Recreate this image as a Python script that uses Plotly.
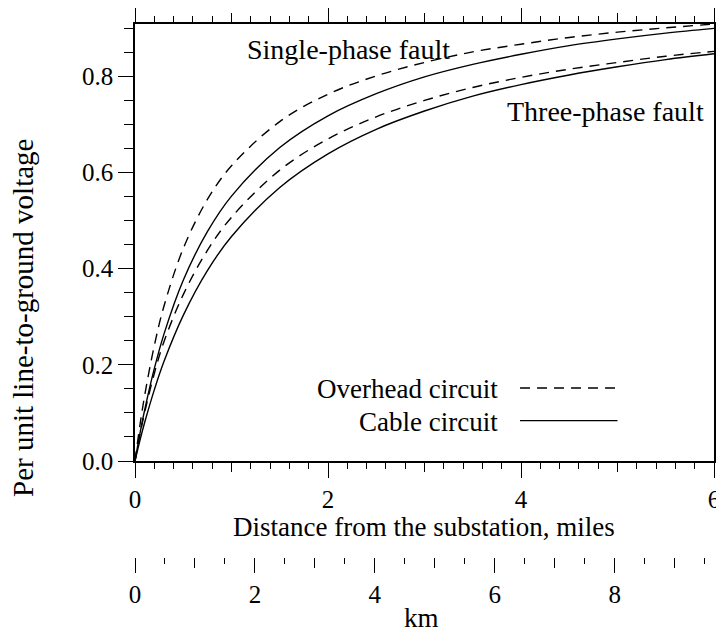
import plotly.graph_objects as go

# ---- data ----
miles = [0, 0.05, 0.1, 0.2, 0.3, 0.5, 0.75, 1, 1.5, 2, 2.5, 3, 3.5, 4, 4.5, 5, 5.5, 6]
overhead_single = [0, 0.073, 0.136, 0.240, 0.322, 0.442, 0.544, 0.614, 0.706, 0.763,
                   0.801, 0.829, 0.851, 0.867, 0.881, 0.892, 0.901, 0.909]
cable_single = [0, 0.056, 0.106, 0.192, 0.264, 0.376, 0.477, 0.551, 0.652, 0.718,
                0.764, 0.799, 0.825, 0.846, 0.864, 0.878, 0.890, 0.900]
overhead_three = [0, 0.054, 0.101, 0.182, 0.248, 0.346, 0.438, 0.507, 0.605, 0.670,
                  0.716, 0.750, 0.777, 0.798, 0.815, 0.829, 0.842, 0.852]
cable_three = [0, 0.042, 0.080, 0.148, 0.207, 0.303, 0.396, 0.467, 0.569, 0.639,
               0.690, 0.728, 0.759, 0.783, 0.803, 0.820, 0.835, 0.847]

MI_TO_KM = 1.609344
miles_major = [0, 2, 4, 6]
miles_mid = [1, 3, 5]
km_major = [0, 2, 4, 6, 8]
km_mid = [1, 3, 5, 7, 9]
y_ticks = [0.0, 0.2, 0.4, 0.6, 0.8]
y_ticktext = ["0.0", "0.2", "0.4", "0.6", "0.8"]

FONT = "Liberation Serif"
FS_TICK = 25
FS_TITLE = 27
FS_NOTE = 28
FS_YTITLE = 29
DASH = "10px,7px"

fig = go.Figure()
for ys, dash in [(overhead_single, DASH), (cable_single, "solid"),
                 (overhead_three, DASH), (cable_three, "solid")]:
    fig.add_trace(go.Scatter(x=miles, y=ys, mode="lines",
                             line=dict(color="black", width=1.4, dash=dash, shape="spline"),
                             showlegend=False, hoverinfo="skip"))

km = [m * MI_TO_KM for m in miles]
# helper (invisible) traces so the extra tick axes are drawn
fig.add_trace(go.Scatter(x=km, y=cable_three, xaxis="x2", mode="none", showlegend=False, hoverinfo="skip"))
fig.add_trace(go.Scatter(x=miles, y=cable_three, xaxis="x3", mode="none", showlegend=False, hoverinfo="skip"))
fig.add_trace(go.Scatter(x=km, y=cable_three, xaxis="x4", mode="none", showlegend=False, hoverinfo="skip"))

xmax = 6
kmmax = 6 * MI_TO_KM
ybot = 0.1801
ymax = 0.909

common = dict(showgrid=False, zeroline=False, tickcolor="black", tickwidth=1,
              automargin=False, ticklabeloverflow="allow",
              tickfont=dict(family=FONT, size=FS_TICK, color="black"))

# the page body adds an 8px offset, so the figure is 8px smaller on each side
fig.update_layout(
    width=716, height=627,
    margin=dict(l=127, r=10, t=16, b=78),
    paper_bgcolor="white", plot_bgcolor="white",
    font=dict(family=FONT, size=FS_TICK, color="black"),
    xaxis=dict(domain=[0, 1], range=[0, xmax], anchor="y",
               showline=True, linecolor="black", linewidth=1.5, mirror="ticks",
               ticks="outside", tickvals=miles_major, ticklen=15,
               minor=dict(dtick=0.2, tick0=0, ticks="outside", ticklen=6,
                          tickcolor="black", tickwidth=1, showgrid=False),
               **common),
    xaxis3=dict(overlaying="x", range=[0, xmax], anchor="y",
                showline=False, mirror="ticks", ticks="outside", tickvals=miles_mid,
                ticklen=10, showticklabels=False, **common),
    xaxis2=dict(overlaying="x", range=[0, kmmax], anchor="free", position=0,
                side="bottom", showline=False, ticks="outside", tickvals=km_major,
                ticklen=15,
                minor=dict(dtick=0.5, tick0=0, ticks="outside", ticklen=6,
                           tickcolor="black", tickwidth=1, showgrid=False),
                **common),
    xaxis4=dict(overlaying="x", range=[0, kmmax], anchor="free", position=0,
                side="bottom", showline=False, ticks="outside", tickvals=km_mid,
                ticklen=10, showticklabels=False, **common),
    yaxis=dict(domain=[ybot, 1], range=[0, ymax],
               showline=True, linecolor="black", linewidth=1.5, mirror="ticks",
               ticks="outside", tickvals=y_ticks, ticktext=y_ticktext, ticklen=15,
               minor=dict(dtick=0.05, tick0=0, ticks="outside", ticklen=9,
                          tickcolor="black", tickwidth=1, showgrid=False),
               **common),
)

# axis titles
fig.add_annotation(x=0.4984, y=0.0563, xref="paper", yref="paper",
                   text="Distance from the substation, miles", showarrow=False,
                   xanchor="center", yanchor="middle",
                   font=dict(family=FONT, size=FS_TITLE, color="black"))
fig.add_annotation(x=0.4956, y=-0.1463, xref="paper", yref="paper",
                   text="km", showarrow=False, xanchor="center", yanchor="bottom",
                   font=dict(family=FONT, size=FS_TITLE, color="black"))
fig.add_annotation(x=-0.1935, y=0.4484, xref="paper", yref="paper",
                   text="Per unit line-to-ground voltage", showarrow=False,
                   textangle=-90, xanchor="center", yanchor="middle",
                   font=dict(family=FONT, size=FS_YTITLE, color="black"))

# text labels inside the plot
fig.add_annotation(x=1.14, y=0.855, xref="x", yref="y", text="Single-phase fault",
                   showarrow=False, xanchor="left", yanchor="middle",
                   font=dict(family=FONT, size=FS_NOTE, color="black"))
fig.add_annotation(x=3.83, y=0.728, xref="x", yref="y", text="Three-phase fault",
                   showarrow=False, xanchor="left", yanchor="middle",
                   font=dict(family=FONT, size=FS_NOTE, color="black"))

# legend (text on the left, line sample on the right)
leg_text_y = [0.150, 0.081]
leg_line_y = [0.152, 0.084]
leg_names = ["Overhead circuit", "Cable circuit"]
leg_dash = [DASH, "solid"]
for ty, ly, name, dash in zip(leg_text_y, leg_line_y, leg_names, leg_dash):
    fig.add_annotation(x=3.78, y=ty, xref="x", yref="y", text=name, showarrow=False,
                       xanchor="right", yanchor="middle",
                       font=dict(family=FONT, size=FS_TITLE, color="black"))
    fig.add_shape(type="line", x0=3.99, x1=5.0, y0=ly, y1=ly, xref="x", yref="y",
                  line=dict(color="black", width=1.4, dash=dash))

fig.write_html("out.html")
